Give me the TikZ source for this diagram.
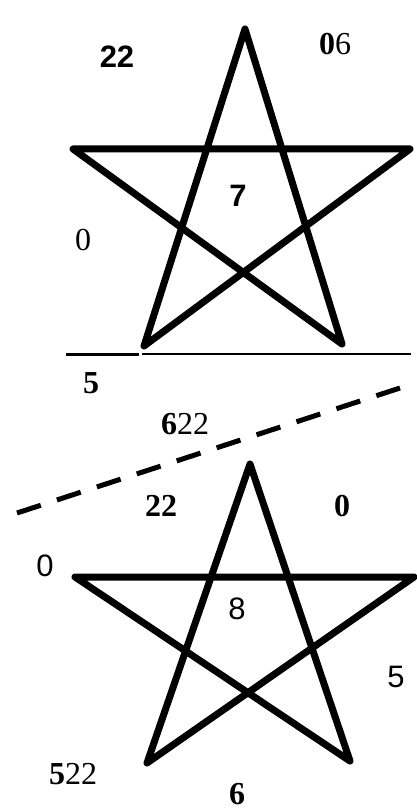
\documentclass[tikz,border=0pt]{standalone}
\usepackage{fontspec}
\setmainfont{Liberation Serif}
\newfontfamily\arialf{Liberation Sans}
\begin{document}
\begin{tikzpicture}[x=1pt,y=-1pt,
  starline/.style={line width=7pt,line join=round,line cap=round,black},
  lbl/.style={font=\fontsize{32}{32}\selectfont,inner sep=0pt,anchor=center},
  lblsans/.style={font=\arialf\fontsize{31}{31}\selectfont,inner sep=0pt,anchor=center}]
\useasboundingbox (0,0) rectangle (416,810);
% top star
\coordinate (A1) at (245,29);
\coordinate (B1) at (410,149);
\coordinate (C1) at (342,344);
\coordinate (D1) at (144,346);
\coordinate (E1) at (73,149);
\draw[starline] (A1) -- (D1) -- (B1) -- (E1) -- (C1) -- cycle;
% lines under top star
\coordinate (L1a) at (66,354);
\coordinate (L1b) at (139,354);
\coordinate (L2a) at (142,354);
\coordinate (L2b) at (411,354);
\draw[line width=3pt] (L1a) -- (L1b);
\draw[line width=2pt] (L2a) -- (L2b);
% dashed line
\coordinate (S1) at (17,513);
\coordinate (S2) at (400,388);
\draw[line width=5pt,dash pattern=on 25pt off 17pt] (S1) -- (S2);
% bottom star
\coordinate (A2) at (250,464);
\coordinate (B2) at (414,577);
\coordinate (C2) at (350,761);
\coordinate (D2) at (147,763);
\coordinate (E2) at (75,577);
\draw[starline] (A2) -- (D2) -- (B2) -- (E2) -- (C2) -- cycle;
% labels top
\node[lblsans] (t22) at (117,57) {\bfseries 22};
\node[lbl] (t06) at (335,44) {\bfseries 0\mdseries 6};
\node[lblsans] (t7) at (238,196) {\bfseries 7};
\node[lbl] (t0) at (83,240) {0};
\node[lbl] (t5) at (91,383) {\bfseries 5};
\node[lbl] (t622) at (185,424) {\bfseries 6\mdseries 22};
% labels bottom
\node[lbl] (b22) at (161,506) {\bfseries 22};
\node[lbl] (b0) at (342,506) {\bfseries 0};
\node[lblsans] (bl0) at (45,566) {0};
\node[lblsans] (b8) at (237,609) {8};
\node[lblsans] (b5) at (396,677) {5};
\node[lbl] (b522) at (73,774) {\bfseries 5\mdseries 22};
\node[lbl] (b6) at (237,794) {\bfseries 6};
\end{tikzpicture}
\end{document}
